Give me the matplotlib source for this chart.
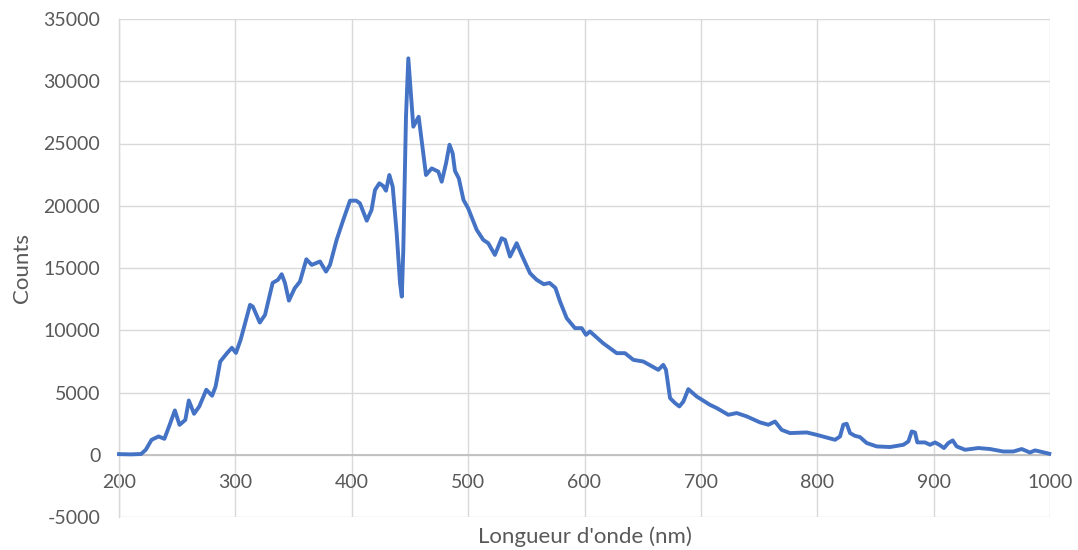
import matplotlib
matplotlib.use("Agg")
import matplotlib.pyplot as plt

wavelength = [200, 210, 219, 223, 228, 234, 239, 243, 248, 252, 257, 260, 264.5, 269, 275, 280, 283, 287,
              293, 297, 300.5, 304.5, 312.6, 315, 321, 325.5, 332, 336.6, 339.8, 342.6, 346, 351, 355.5,
              361, 365.6, 372.7, 377.9, 381.3, 387, 392.7, 398.5, 403.7, 407, 412.9, 417, 420, 423.7, 427,
              429.4, 432.3, 435.2, 438.6, 441.5, 443, 444.3, 446.6, 448.6, 450.6, 452.9, 455.2, 457.5, 460,
              463.8, 468.7, 474.4, 477.3, 481, 484, 486.7, 488.7, 492, 496, 500, 507.4, 513, 517.3, 523,
              528.8, 531.7, 536, 541.7, 546, 553.2, 558.9, 565, 570, 575, 579, 584.7, 591.8, 597.6, 601.3,
              604.7, 616, 627.7, 634.8, 642, 650.5, 663.4, 667.7, 670, 673.5, 677.8, 681.5, 685, 689.2,
              696.4, 707.8, 713.6, 723.6, 730.8, 739.4, 750.8, 758, 763.7, 769.4, 776.6, 791, 799.5, 815.3,
              819.6, 822.4, 825.3, 828.2, 832.4, 836.7, 842.5, 851.1, 862.5, 874, 878.3, 881.2, 884, 886,
              892.6, 896.9, 901.2, 904.9, 908.9, 912.6, 916.4, 919.8, 927, 938.4, 948.4, 959.9, 968.5,
              975.7, 982.8, 987.1, 991.4, 999.4]
counts = [50, 30, 60, 400, 1200, 1470, 1280, 2270, 3560, 2400, 2800, 4360, 3290, 3880, 5220, 4740, 5480, 7490,
          8180, 8590, 8180, 9230, 12040, 11900, 10620, 11240, 13800, 14050, 14500, 13800, 12380, 13380, 13910,
          15700, 15250, 15520, 14710, 15250, 17260, 18860, 20410, 20410, 20200, 18800, 19660, 21270, 21800, 21590,
          21210, 22470, 21530, 17800, 13780, 12700, 16450, 27150, 31840, 29300, 26350, 26750, 27150, 25280,
          22470, 23000, 22740, 21930, 23400, 24900, 24210, 22800, 22200, 20470, 19800, 18060, 17260, 16990, 16050,
          17390, 17260, 15920, 16990, 16050, 14580, 14050, 13700, 13800, 13400, 12300, 10970, 10170, 10170, 9630,
          9900, 8960, 8160, 8160, 7620, 7490, 6820, 7220, 6820, 4550, 4150, 3880, 4280, 5270,
          4680, 4010, 3750, 3210, 3350, 3080, 2600, 2410, 2670, 2000, 1740, 1790, 1600, 1200,
          1470, 2410, 2490, 1740, 1520, 1420, 940, 670, 620, 800, 1070, 1870, 1790, 990,
          990, 800, 990, 800, 540, 940, 1150, 670, 400, 540, 460, 260, 260,
          460, 180, 350, 260, 80]

x_ticks = [200, 300, 400, 500, 600, 700, 800, 900, 1000]
y_ticks = [-5000, 0, 5000, 10000, 15000, 20000, 25000, 30000, 35000]
x_label = "Longueur d'onde (nm)"
y_label = "Counts"

plt.rcParams['font.family'] = ['Lato', 'DejaVu Sans']
W, H = 1078, 550
fig = plt.figure(figsize=(W / 100, H / 100), dpi=100)
ax = fig.add_axes([119 / W, 1 - 517 / H, 931 / W, 498 / H])

ax.plot(wavelength, counts, color='#4472C4', lw=2.8, solid_joinstyle='round', zorder=3, clip_on=False)

ax.set_xlim(200, 1000)
ax.set_ylim(-5000, 35000)
ax.set_xticks(x_ticks)
ax.set_yticks(y_ticks)
ax.set_yticklabels([str(v) for v in y_ticks])
ax.grid(True, color='#D9D9D9', lw=1.0, zorder=0)
ax.set_axisbelow(True)

for s in ['top', 'right']:
    ax.spines[s].set_visible(False)
ax.spines['bottom'].set_position(('data', 0))
ax.spines['bottom'].set_color('#BFBFBF')
ax.spines['bottom'].set_linewidth(1.3)
ax.spines['left'].set_color('#D9D9D9')
ax.spines['left'].set_linewidth(1.0)

ax.tick_params(axis='both', length=0, colors='#595959', labelsize=14)
ax.tick_params(axis='x', pad=14)
ax.tick_params(axis='y', pad=13.5)

fig.text(22 / W, 1 - 268 / H, y_label, rotation=90, ha='center', va='center', color='#595959', fontsize=16)
fig.text(585 / W, 1 - 537 / H, x_label, ha='center', va='center', color='#595959', fontsize=16)

fig.savefig('out.png', dpi=100)
